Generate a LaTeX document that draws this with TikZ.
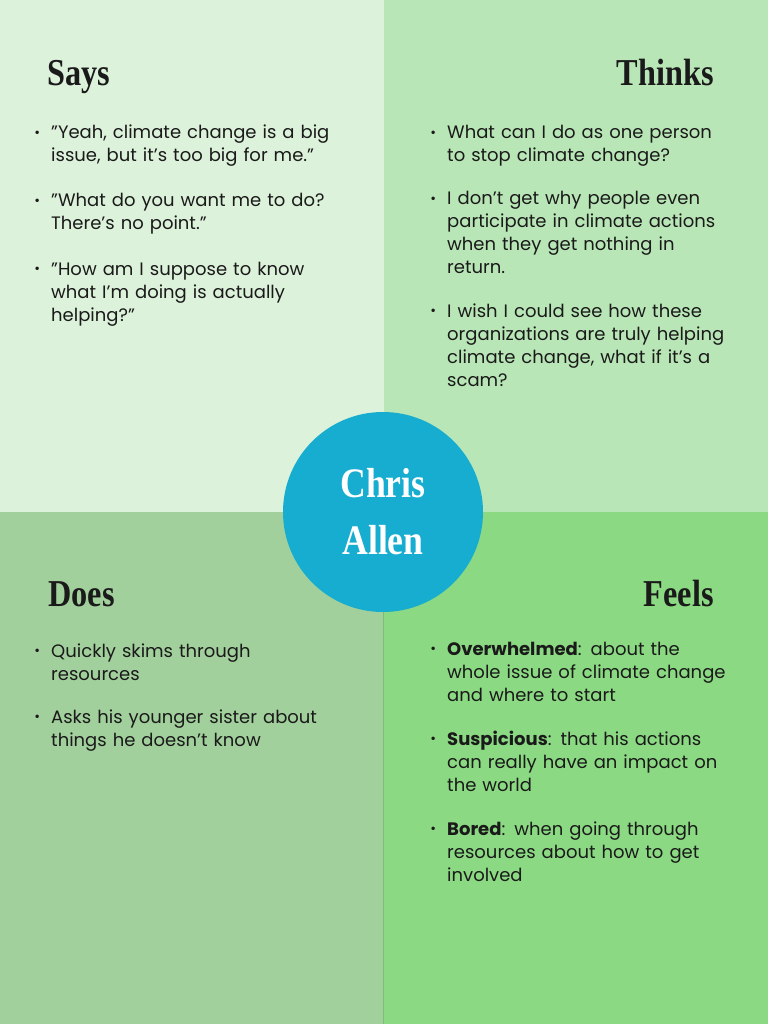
\documentclass[tikz,border=0pt]{standalone}
\usepackage{fontspec}
\setmainfont{Poppins}
\newfontfamily\headfont[FakeStretch=0.85]{Liberation Serif}
\usetikzlibrary{positioning}

\definecolor{saysbg}{HTML}{DCF2DA}
\definecolor{thinksbg}{HTML}{B9E6B6}
\definecolor{doesbg}{HTML}{A2D09C}
\definecolor{feelsbg}{HTML}{8BD982}
\definecolor{namebg}{HTML}{16ADD0}
\definecolor{inkc}{HTML}{1A1A1A}
\definecolor{seam}{HTML}{7CBE74}

\newcommand{\dotmark}{\llap{{\fontsize{14}{14}\selectfont\raisebox{1.5pt}{•}}\hspace{11pt}}}

\begin{document}
\begin{tikzpicture}[
    x=1pt, y=-1pt,
    head/.style={font=\headfont\bfseries\fontsize{38}{40}\selectfont,
                 text=inkc, inner sep=0},
    item/.style={font=\fontsize{18}{23}\selectfont, text=inkc, inner sep=0,
                 text width=310pt, align=left, anchor=base west},
    persona/.style={circle, fill=namebg, minimum size=200pt, inner sep=0,
                    text=white, align=center,
                    font=\headfont\bfseries\fontsize{42}{57}\selectfont}
  ]
  \useasboundingbox (0,0) rectangle (768,1024);
  \fill[saysbg] (0,0) rectangle (384,512);
  \fill[thinksbg] (384,0) rectangle (768,512);
  \fill[doesbg] (0,512) rectangle (384,1024);
  \fill[feelsbg] (384,512) rectangle (768,1024);
  \draw[seam, line width=0.8pt] (383.5,512) -- (383.5,1024);

  \node[persona] (name) at (383,512) {Chris\\Allen};

  % says
  \node[head, anchor=base west] (says) at (47,86) {Says};
  \node[item] (says1) at (51,139) {\dotmark”Yeah, climate change is a big\\issue, but it’s too big for me.”};
  \node[item] (says2) at (51,207) {\dotmark”What do you want me to do?\\There’s no point.”};
  \node[item] (says3) at (51,275) {\dotmark”How am I suppose to know\\what I’m doing is actually\\helping?”};

  % thinks
  \node[head, anchor=base east] (thinks) at (714,86) {Thinks};
  \node[item] (thinks1) at (447,139) {\dotmark What can I do as one person\\to stop climate change?};
  \node[item] (thinks2) at (447,205) {\dotmark I don’t get why people even\\participate in climate actions\\when they get nothing in\\return.};
  \node[item] (thinks3) at (447,317) {\dotmark I wish I could see how these\\organizations are truly helping\\climate change, what if it’s a\\scam?};

  % does
  \node[head, anchor=base west] (does) at (48,606) {Does};
  \node[item] (does1) at (51,657) {\dotmark Quickly skims through\\resources};
  \node[item] (does2) at (51,723) {\dotmark Asks his younger sister about\\things he doesn’t know};

  % feels
  \node[head, anchor=base east] (feels) at (714,606) {Feels};
  \node[item] (feels1) at (447,655) {\dotmark\textbf{Overwhelmed}: about the\\whole issue of climate change\\and where to start};
  \node[item] (feels2) at (447,745) {\dotmark\textbf{Suspicious}: that his actions\\can really have an impact on\\the world};
  \node[item] (feels3) at (447,835) {\dotmark\textbf{Bored}: when going through\\resources about how to get\\involved};
\end{tikzpicture}
\end{document}
